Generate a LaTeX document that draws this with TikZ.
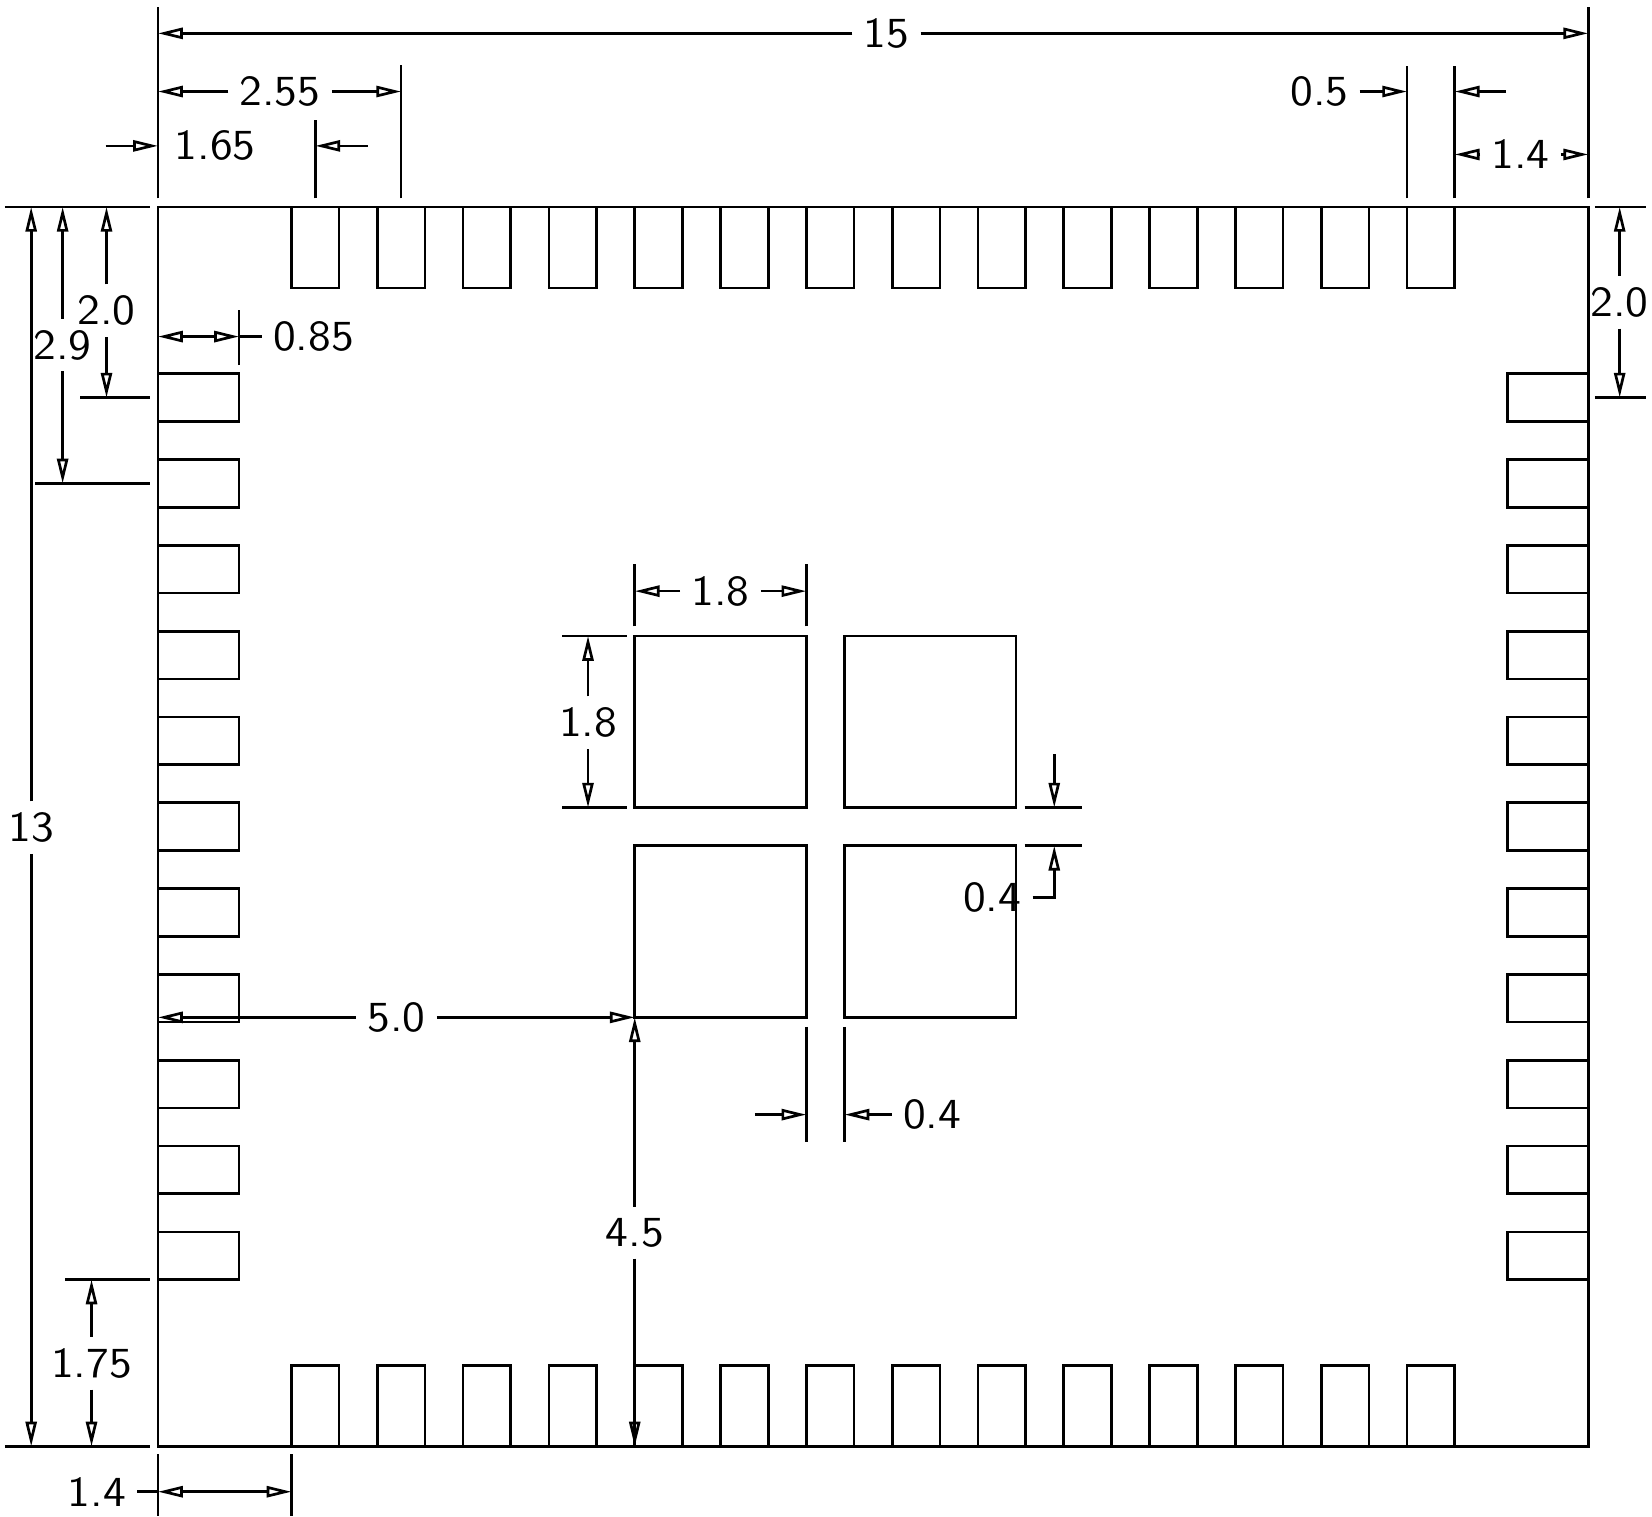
\documentclass[tikz,border=0pt]{standalone}
\usepackage{fontspec}
\setsansfont{Latin Modern Sans}[FakeStretch=1.08]
\usepackage{tikz}
\usetikzlibrary{arrows.meta}
\tikzset{>={Triangle[open,length=7.4pt,width=3.3pt]},every path/.style={line width=0.8pt},}
\tikzset{dim label/.style={inner sep=3pt,font=\fontsize{12.8}{14}\selectfont\sffamily},}
\begin{document}
\begin{tikzpicture}

 \useasboundingbox (-1.657,-0.73) rectangle (15.669,15.17);

 % package outline, pads
 \draw (0,0) rectangle (15,13);
 \foreach \i in {0,...,13} {
    \draw (1.4+0.9*\i,13) rectangle (1.9+0.9*\i,12.15);
    \draw (1.4+0.9*\i,0) rectangle (1.9+0.9*\i,0.85);
 }
 \foreach \i in {0,...,10} {
    \draw (0,11.25-0.9*\i) rectangle (0.85,10.75-0.9*\i);
    \draw (15,11.25-0.9*\i) rectangle (14.15,10.75-0.9*\i);
 }
 \draw (5,6.7) rectangle (6.8,8.5);
 \draw (7.2,6.7) rectangle (9,8.5);
 \draw (5,4.5) rectangle (6.8,6.3);
 \draw (7.2,4.5) rectangle (9,6.3);

 % extension lines
 \draw (0,13.09) -- (0,15.095);
 \draw (15,13.09) -- (15,15.095);
 \draw (2.55,13.09) -- (2.55,14.49);
 \draw (1.65,13.09) -- (1.65,13.91);
 \draw (13.1,13.09) -- (13.1,14.48);
 \draw (13.6,13.09) -- (13.6,14.48);
 \draw (-1.605,13) -- (-0.085,13);
 \draw (-1.605,0) -- (-0.085,0);
 \draw (-0.815,11) -- (-0.085,11);
 \draw (-1.287,10.1) -- (-0.085,10.1);
 \draw (-0.973,1.75) -- (-0.085,1.75);
 \draw (15.07,13) -- (15.61,13);
 \draw (15.07,11) -- (15.61,11);
 \draw (0.85,11.34) -- (0.85,11.92);
 \draw (0,-0.08) -- (0,-0.73);
 \draw (1.4,-0.08) -- (1.4,-0.73);
 \draw (5,8.6) -- (5,9.26);
 \draw (6.8,8.6) -- (6.8,9.26);
 \draw (4.24,8.5) -- (4.92,8.5);
 \draw (4.24,6.7) -- (4.92,6.7);
 \draw (9.09,6.7) -- (9.69,6.7);
 \draw (9.09,6.3) -- (9.69,6.3);
 \draw (6.8,4.4) -- (6.8,3.19);
 \draw (7.2,4.4) -- (7.2,3.19);

 % labels
 \node[dim label] (w15) at (7.64,14.82) {15};
 \node[dim label] (w255) at (1.28,14.21) {2.55};
 \node[dim label] (w165) at (0.6,13.64) {1.65};
 \node[dim label] (w05) at (12.18,14.21) {0.5};
 \node[dim label] (w14r) at (14.29,13.55) {1.4};
 \node[dim label] (w085) at (1.63,11.64) {0.85};
 \node[dim label] (h13) at (-1.33,6.49) {13};
 \node[dim label] (h29) at (-1.0,11.55) {2.9};
 \node[dim label] (h20) at (-0.54,11.91) {2.0};
 \node[dim label] (h20r) at (15.33,12) {2.0};
 \node[dim label] (h175) at (-0.697,0.873) {1.75};
 \node[dim label] (w14b) at (-0.64,-0.475) {1.4};
 \node[dim label] (w18) at (5.9,8.97) {1.8};
 \node[dim label] (h18) at (4.51,7.59) {1.8};
 \node[dim label] (h04) at (8.75,5.76) {0.4};
 \node[dim label] (w04) at (8.12,3.48) {0.4};
 \node[dim label] (w50) at (2.5,4.5) {5.0};
 \node[dim label] (h45) at (5,2.24) {4.5};

 % arrow ends
 \coordinate (w15a) at (0,14.82);
 \coordinate (w15b) at (15,14.82);
 \coordinate (w255a) at (0,14.21);
 \coordinate (w255b) at (2.55,14.21);
 \coordinate (w165a) at (0,13.64);
 \coordinate (w165c) at (-0.55,13.64);
 \coordinate (w165b) at (1.65,13.64);
 \coordinate (w165d) at (2.2,13.64);
 \coordinate (w05a) at (13.1,14.21);
 \coordinate (w05b) at (13.6,14.21);
 \coordinate (w05c) at (14.14,14.21);
 \coordinate (w14ra) at (13.6,13.55);
 \coordinate (w14rb) at (15,13.55);
 \coordinate (w085a) at (0,11.64);
 \coordinate (w085b) at (0.85,11.64);
 \coordinate (h13a) at (-1.33,13);
 \coordinate (h13b) at (-1.33,0);
 \coordinate (h29a) at (-1.0,13);
 \coordinate (h29b) at (-1.0,10.1);
 \coordinate (h20a) at (-0.54,13);
 \coordinate (h20b) at (-0.54,11);
 \coordinate (h20ra) at (15.33,13);
 \coordinate (h20rb) at (15.33,11);
 \coordinate (h175a) at (-0.697,1.75);
 \coordinate (h175b) at (-0.697,0);
 \coordinate (w14ba) at (0,-0.475);
 \coordinate (w14bb) at (1.4,-0.475);
 \coordinate (w18a) at (5,8.97);
 \coordinate (w18b) at (6.8,8.97);
 \coordinate (h18a) at (4.51,8.5);
 \coordinate (h18b) at (4.51,6.7);
 \coordinate (h04a) at (9.4,6.7);
 \coordinate (h04d) at (9.4,7.26);
 \coordinate (h04b) at (9.4,6.3);
 \coordinate (h04c) at (9.4,5.76);
 \coordinate (w04a) at (6.8,3.48);
 \coordinate (w04c) at (6.26,3.48);
 \coordinate (w04b) at (7.2,3.48);
 \coordinate (w50a) at (0,4.5);
 \coordinate (w50b) at (5,4.5);
 \coordinate (h45a) at (5,4.5);
 \coordinate (h45b) at (5,0);

 % dimension lines
 \draw[->] (w15) -- (w15a);
 \draw[->] (w15) -- (w15b);
 \draw[->] (w255) -- (w255a);
 \draw[->] (w255) -- (w255b);
 \draw[->] (w165c) -- (w165a);
 \draw[->] (w165d) -- (w165b);
 \draw[->] (w05) -- (w05a);
 \draw[->] (w05c) -- (w05b);
 \draw[->] (w14r) -- (w14ra);
 \draw[->] (w14r) -- (w14rb);
 \draw[<->] (w085a) -- (w085b);
 \draw (w085b) -- (w085);
 \draw[->] (h13) -- (h13a);
 \draw[->] (h13) -- (h13b);
 \draw[->] (h29) -- (h29a);
 \draw[->] (h29) -- (h29b);
 \draw[->] (h20) -- (h20a);
 \draw[->] (h20) -- (h20b);
 \draw[->] (h20r) -- (h20ra);
 \draw[->] (h20r) -- (h20rb);
 \draw[->] (h175) -- (h175a);
 \draw[->] (h175) -- (h175b);
 \draw[<->] (w14ba) -- (w14bb);
 \draw (w14b) -- (w14ba);
 \draw[->] (w18) -- (w18a);
 \draw[->] (w18) -- (w18b);
 \draw[->] (h18) -- (h18a);
 \draw[->] (h18) -- (h18b);
 \draw[->] (h04d) -- (h04a);
 \draw[->] (h04) -- (h04c) -- (h04b);
 \draw[->] (w04c) -- (w04a);
 \draw[->] (w04) -- (w04b);
 \draw[->] (w50) -- (w50a);
 \draw[->] (w50) -- (w50b);
 \draw[->] (h45) -- (h45a);
 \draw[->] (h45) -- (h45b);

\end{tikzpicture}
\end{document}
